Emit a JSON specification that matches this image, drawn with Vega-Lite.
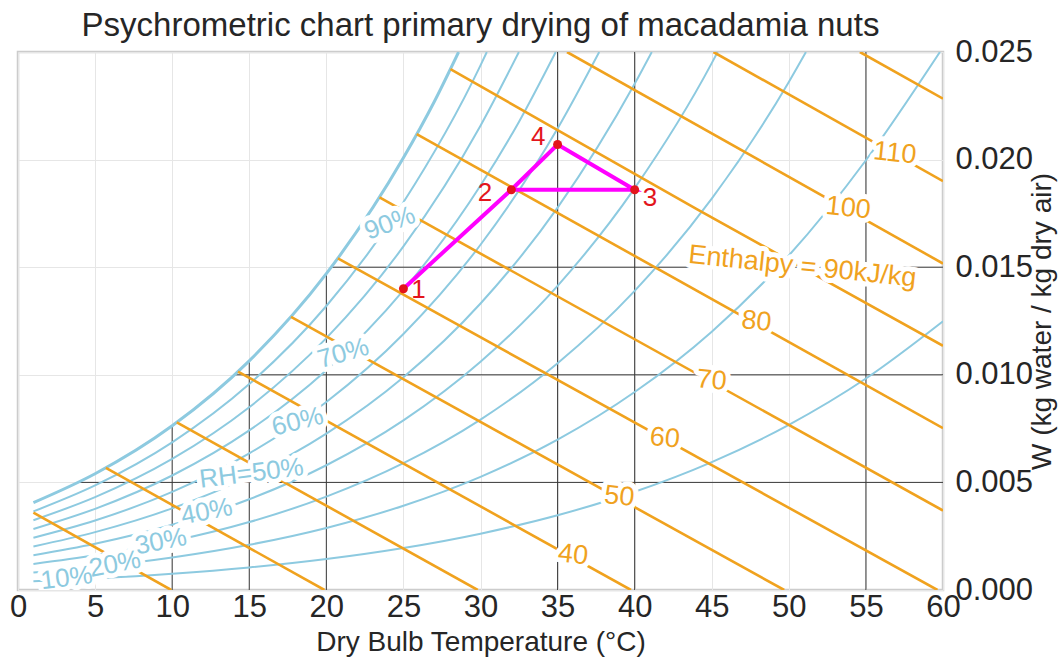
{
  "$schema": "https://vega.github.io/schema/vega-lite/v6.json",
  "width": 925,
  "height": 538,
  "autosize": {"type": "none"},
  "padding": {"left": 18, "top": 52, "right": 119, "bottom": 73},
  "background": "white",
  "title": {"text": "Psychrometric chart primary drying of macadamia nuts", "fontSize": 33, "font": "Liberation Sans", "fontWeight": "normal", "color": "#262626", "frame": "group", "anchor": "middle", "offset": -7},
  "config": {
    "view": {"stroke": "#cccccc", "strokeWidth": 2.5},
    "font": "Liberation Sans",
    "axis": {"grid": true, "gridColor": "#e6e6e6", "gridWidth": 1, "domain": false, "ticks": false, "labelFontSize": 31, "labelColor": "#262626", "titleFontSize": 28, "titleFontWeight": "normal", "titleColor": "#262626", "labelFlush": false, "labelOverlap": false}
  },
  "datasets": {
    "rh": [
      {"rh":100,"t":1,"w":0.00406},{"rh":100,"t":5,"w":0.005402},{"rh":100,"t":10,"w":0.00763},{"rh":100,"t":15,"w":0.01065},{"rh":100,"t":20,"w":0.014698},{"rh":100,"t":25,"w":0.020084},{"rh":100,"t":27,"w":0.022689},{"rh":100,"t":28.58,"w":0.025},
      {"rh":90,"t":1,"w":0.003651},{"rh":90,"t":5,"w":0.004858},{"rh":90,"t":10,"w":0.006859},{"rh":90,"t":15,"w":0.009568},{"rh":90,"t":20,"w":0.013197},{"rh":90,"t":25,"w":0.018018},{"rh":90,"t":30,"w":0.02438},{"rh":90,"t":30.41,"w":0.025},
      {"rh":80,"t":1,"w":0.003244},{"rh":80,"t":5,"w":0.004314},{"rh":80,"t":10,"w":0.006089},{"rh":80,"t":15,"w":0.008491},{"rh":80,"t":20,"w":0.011703},{"rh":80,"t":25,"w":0.015964},{"rh":80,"t":30,"w":0.021577},{"rh":80,"t":32.49,"w":0.025},
      {"rh":70,"t":1,"w":0.002836},{"rh":70,"t":5,"w":0.003772},{"rh":70,"t":10,"w":0.005321},{"rh":70,"t":15,"w":0.007417},{"rh":70,"t":20,"w":0.010216},{"rh":70,"t":25,"w":0.013924},{"rh":70,"t":30,"w":0.018798},{"rh":70,"t":32.5,"w":0.021764},{"rh":70,"t":34.88,"w":0.025},
      {"rh":60,"t":1,"w":0.00243},{"rh":60,"t":5,"w":0.00323},{"rh":60,"t":10,"w":0.004556},{"rh":60,"t":15,"w":0.006346},{"rh":60,"t":20,"w":0.008736},{"rh":60,"t":25,"w":0.011897},{"rh":60,"t":30,"w":0.016044},{"rh":60,"t":35,"w":0.021444},{"rh":60,"t":37.7,"w":0.025},
      {"rh":50,"t":1,"w":0.002023},{"rh":50,"t":5,"w":0.002689},{"rh":50,"t":10,"w":0.003792},{"rh":50,"t":15,"w":0.00528},{"rh":50,"t":20,"w":0.007263},{"rh":50,"t":25,"w":0.009883},{"rh":50,"t":30,"w":0.013312},{"rh":50,"t":35,"w":0.017768},{"rh":50,"t":40,"w":0.02352},{"rh":50,"t":41.11,"w":0.025},
      {"rh":40,"t":1,"w":0.001618},{"rh":40,"t":5,"w":0.00215},{"rh":40,"t":10,"w":0.00303},{"rh":40,"t":15,"w":0.004217},{"rh":40,"t":20,"w":0.005797},{"rh":40,"t":25,"w":0.007881},{"rh":40,"t":30,"w":0.010605},{"rh":40,"t":35,"w":0.014133},{"rh":40,"t":40,"w":0.018675},{"rh":40,"t":45,"w":0.024484},{"rh":40,"t":45.38,"w":0.025},
      {"rh":30,"t":1,"w":0.001212},{"rh":30,"t":5,"w":0.001611},{"rh":30,"t":10,"w":0.00227},{"rh":30,"t":15,"w":0.003157},{"rh":30,"t":20,"w":0.004338},{"rh":30,"t":25,"w":0.005892},{"rh":30,"t":30,"w":0.00792},{"rh":30,"t":35,"w":0.01054},{"rh":30,"t":40,"w":0.013902},{"rh":30,"t":45,"w":0.018184},{"rh":30,"t":50,"w":0.023609},{"rh":30,"t":51.11,"w":0.025},
      {"rh":20,"t":1,"w":0.000808},{"rh":20,"t":5,"w":0.001073},{"rh":20,"t":10,"w":0.001511},{"rh":20,"t":15,"w":0.002101},{"rh":20,"t":20,"w":0.002885},{"rh":20,"t":25,"w":0.003916},{"rh":20,"t":30,"w":0.005257},{"rh":20,"t":35,"w":0.006987},{"rh":20,"t":40,"w":0.009199},{"rh":20,"t":45,"w":0.012006},{"rh":20,"t":50,"w":0.015542},{"rh":20,"t":55,"w":0.019971},{"rh":20,"t":59.8,"w":0.025},
      {"rh":10,"t":1,"w":0.000404},{"rh":10,"t":5,"w":0.000536},{"rh":10,"t":10,"w":0.000755},{"rh":10,"t":15,"w":0.001049},{"rh":10,"t":20,"w":0.001439},{"rh":10,"t":25,"w":0.001952},{"rh":10,"t":30,"w":0.002618},{"rh":10,"t":35,"w":0.003474},{"rh":10,"t":40,"w":0.004566},{"rh":10,"t":45,"w":0.005945},{"rh":10,"t":50,"w":0.007675},{"rh":10,"t":55,"w":0.009828},{"rh":10,"t":60,"w":0.012489}
    ],
    "enth": [
      {"h":10,"t":1,"w":0.003594},{"h":10,"t":9.94,"w":0},
      {"h":20,"t":5.7,"w":0.005675},{"h":20,"t":19.88,"w":0},
      {"h":30,"t":10.3,"w":0.007788},{"h":30,"t":29.82,"w":0},
      {"h":40,"t":14.27,"w":0.01015},{"h":40,"t":39.76,"w":0},
      {"h":50,"t":17.71,"w":0.01269},{"h":50,"t":49.7,"w":0},
      {"h":60,"t":20.75,"w":0.01541},{"h":60,"t":59.64,"w":0},
      {"h":70,"t":23.45,"w":0.01824},{"h":70,"t":60,"w":0.00369},
      {"h":80,"t":25.86,"w":0.02118},{"h":80,"t":60,"w":0.00752},
      {"h":90,"t":28.05,"w":0.0242},{"h":90,"t":44,"w":0.01771},{"h":90,"t":60,"w":0.01135},
      {"h":100,"t":35.61,"w":0.025},{"h":100,"t":60,"w":0.01517},
      {"h":110,"t":45.11,"w":0.025},{"h":110,"t":60,"w":0.019},
      {"h":120,"t":54.61,"w":0.025},{"h":120,"t":60,"w":0.02283}
    ],
    "vlines": [
      {"t":10,"w":0,"w2":0.00763},{"t":15,"w":0,"w2":0.01065},{"t":20,"w":0,"w2":0.0147},
      {"t":35,"w":0,"w2":0.025},{"t":40,"w":0,"w2":0.025},{"t":55,"w":0,"w2":0.025}
    ],
    "hlines": [
      {"w":0.005,"t":3.9,"t2":60},{"w":0.01,"t":14.04,"t2":60},{"w":0.015,"t":20.32,"t2":60}
    ],
    "rhlab": [
      {"label":"90%","t":24.12,"w":0.01704},
      {"label":"70%","t":21.1,"w":0.011},
      {"label":"60%","t":18.14,"w":0.00782},
      {"label":"RH=50%","t":15.15,"w":0.00542},
      {"label":"40%","t":12.24,"w":0.00364},
      {"label":"30%","t":9.27,"w":0.00225},
      {"label":"20%","t":6.29,"w":0.0012},
      {"label":"10%","t":3.16,"w":0.00055}
    ],
    "hlab": [
      {"label":"110","t":56.87,"w":0.02029},
      {"label":"100","t":53.85,"w":0.01774},
      {"label":"Enthalpy = 90kJ/kg","t":50.88,"w":0.01502},
      {"label":"80","t":47.9,"w":0.01247},
      {"label":"70","t":44.99,"w":0.00973},
      {"label":"60","t":41.96,"w":0.00705},
      {"label":"50","t":39.0,"w":0.00434},
      {"label":"40","t":36.0,"w":0.00163}
    ],
    "path": [
      {"seq":1,"t":25,"w":0.0140},{"seq":2,"t":32,"w":0.0186},{"seq":3,"t":35,"w":0.0207},{"seq":4,"t":40,"w":0.0186},{"seq":5,"t":32,"w":0.0186}
    ],
    "pts": [
      {"n":"1","t":25,"w":0.0140},{"n":"2","t":32,"w":0.0186},{"n":"3","t":40,"w":0.0186},{"n":"4","t":35,"w":0.0207}
    ],
    "ptlab": [
      {"n":"1","t":25.97,"w":0.01394},{"n":"2","t":30.29,"w":0.01843},{"n":"3","t":40.99,"w":0.0182},{"n":"4","t":33.74,"w":0.02106}
    ]
  },
  "encoding": {
    "x": {"field": "t", "type": "quantitative", "scale": {"domain": [0, 60], "nice": false, "zero": false},
      "axis": {"title": "Dry Bulb Temperature (°C)", "values": [0,5,10,15,20,25,30,35,40,45,50,55,60], "labelPadding": 2, "titlePadding": 6}},
    "y": {"field": "w", "type": "quantitative", "scale": {"domain": [0, 0.025], "nice": false},
      "axis": {"orient": "right", "title": "W (kg water / kg dry air)", "format": ".3f", "values": [0,0.005,0.01,0.015,0.02,0.025], "labelPadding": 12, "titlePadding": 24, "titleAngle": 270}}
  },
  "layer": [
    {"data": {"name": "vlines"}, "mark": {"type": "rule", "color": "#383838", "strokeWidth": 1}, "encoding": {"y2": {"field": "w2"}}},
    {"data": {"name": "hlines"}, "mark": {"type": "rule", "color": "#383838", "strokeWidth": 1}, "encoding": {"x2": {"field": "t2"}}},
    {"data": {"name": "rh"}, "mark": {"type": "line", "interpolate": "monotone", "color": "#8dcae0", "clip": true},
      "encoding": {"detail": {"field": "rh", "type": "nominal"}, "strokeWidth": {"condition": {"test": "datum.rh == 100", "value": 3}, "value": 2}}},
    {"data": {"name": "enth"}, "mark": {"type": "line", "color": "#f0a21e", "strokeWidth": 2.6, "clip": true},
      "encoding": {"detail": {"field": "h", "type": "nominal"}}},
    {"data": {"name": "rhlab"}, "mark": {"type": "text", "fontSize": 26, "color": "white", "stroke": "white", "strokeWidth": 10, "strokeJoin": "round", "clip": true},
      "encoding": {"text": {"field": "label"}, "angle": {"condition": [{"test": "datum.label === '90%'", "value": 339}, {"test": "datum.label === '70%'", "value": 344}, {"test": "datum.label === '60%'", "value": 346}, {"test": "datum.label === 'RH=50%'", "value": 353}, {"test": "datum.label === '10%'", "value": 353}], "value": 349}}},
    {"data": {"name": "rhlab"}, "mark": {"type": "text", "fontSize": 26, "color": "#8dcae0", "clip": true},
      "encoding": {"text": {"field": "label"}, "angle": {"condition": [{"test": "datum.label === '90%'", "value": 339}, {"test": "datum.label === '70%'", "value": 344}, {"test": "datum.label === '60%'", "value": 346}, {"test": "datum.label === 'RH=50%'", "value": 353}, {"test": "datum.label === '10%'", "value": 353}], "value": 349}}},
    {"data": {"name": "hlab"}, "mark": {"type": "text", "fontSize": 27, "angle": 6, "color": "white", "stroke": "white", "strokeWidth": 10, "strokeJoin": "round"},
      "encoding": {"text": {"field": "label"}}},
    {"data": {"name": "hlab"}, "mark": {"type": "text", "fontSize": 27, "angle": 6, "color": "#f0a21e"},
      "encoding": {"text": {"field": "label"}}},
    {"data": {"name": "path"}, "mark": {"type": "line", "color": "#ff00ff", "strokeWidth": 4},
      "encoding": {"order": {"field": "seq", "type": "quantitative"}}},
    {"data": {"name": "pts"}, "mark": {"type": "circle", "color": "#e3151b", "size": 80, "opacity": 1}},
    {"data": {"name": "ptlab"}, "mark": {"type": "text", "fontSize": 26, "color": "#e3151b"},
      "encoding": {"text": {"field": "n"}}}
  ]
}
